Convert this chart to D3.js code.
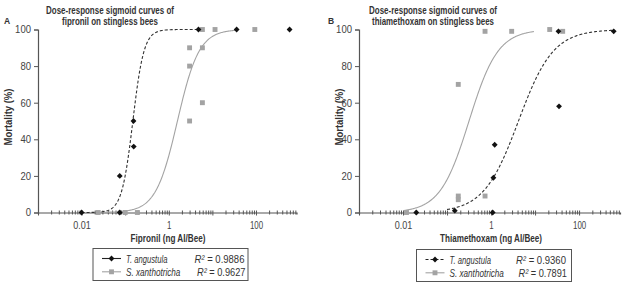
<!DOCTYPE html>
<html>
<head>
<meta charset="utf-8">
<script src="https://cdn.jsdelivr.net/npm/d3@7"></script>
<style>
	body { margin: 0; background: #fff; }
	svg { display: block; }
	text { font-family: "Liberation Sans", Arial, sans-serif; }
</style>
</head>
<body>
<div id="chart"></div>
<script>
///////////////////////////////////////////////////////////////////////////
//////////////////////////// data /////////////////////////////////////////
///////////////////////////////////////////////////////////////////////////

const doseLabels = [0.01, 1, 100];
const mortTicks = [0, 20, 40, 60, 80, 100];
const doseDomain = [0.001, 850];

// fipronil, T. angustula
const fipTaDose = [0.01, 0.075, 0.075, 0.155, 0.157, 4.8, 36, 590];
const fipTaMort = [0, 20, 0, 50, 36, 100, 100, 100];
// fipronil, S. xanthotricha
const fipSxDose = [0.024, 0.1, 0.19, 3, 3, 3, 5.9, 5.9, 5.9, 11.5, 94];
const fipSxMort = [0, 0, 0, 90, 80, 50, 100, 90, 60, 100, 100];

// thiamethoxam, T. angustula
const thiTaDose = [0.02, 0.15, 1.09, 1.13, 1.21, 34, 35, 612];
const thiTaMort = [0, 1, 0, 19, 37, 99, 58, 99];
// thiamethoxam, S. xanthotricha
const thiSxDose = [0.012, 0.18, 0.18, 0.18, 0.73, 0.73, 2.94, 21.5, 42.4];
const thiSxMort = [0, 70, 9, 7, 9, 99, 99, 100, 99];

// fitted sigmoid curves: [LD50, hill slope, dose from, dose to]
const fipTaFit = [0.15, 3.4, 0.01, 4.8];
const fipSxFit = [1.58, 1.75, 0.024, 36];
const thiTaFit = [4.2, 1.1, 0.1, 612];
const thiSxFit = [0.316, 1.32, 0.01, 9.4];

const speciesNames = ["T. angustula", "S. xanthotricha"];
const fipR2 = ["0.9886", "0.9627"];
const thiR2 = ["0.9360", "0.7891"];

///////////////////////////////////////////////////////////////////////////
//////////////////////////// set up svg ///////////////////////////////////
///////////////////////////////////////////////////////////////////////////

const width = 624;
const height = 286;

const svg = d3
	.select("#chart")
	.append("svg")
	.attr("width", width)
	.attr("height", height);

svg.append("rect").attr("width", width).attr("height", height).attr("fill", "#fff");

const colorTa = "#111";
const colorSx = "#a3a3a3";
const textColor = "#333";
const axisColor = "#555";

const zip = (xs, ys) => xs.map((x, i) => ({ dose: x, mort: ys[i] }));

const sigmoid = (fit) => {
	const [ld50, hill, from, to] = fit;
	const steps = d3.range(0, 201).map((i) => Math.log10(from) + (i / 200) * (Math.log10(to) - Math.log10(from)));
	return steps.map((l) => ({ dose: 10 ** l, mort: 100 / (1 + 10 ** (hill * (Math.log10(ld50) - l))) }));
};

// squeeze text horizontally to a width, the original uses a condensed face
// (call after .text(), moves x/y into the transform)
const squeeze = (sel, len) =>
	sel.each(function () {
		const x = +this.getAttribute("x") || 0;
		const y = +this.getAttribute("y") || 0;
		const prev = this.getAttribute("transform") || "";
		const w = this.getComputedTextLength();
		this.setAttribute("x", 0);
		this.setAttribute("y", 0);
		this.setAttribute("transform", `${prev} translate(${x},${y}) scale(${len / w},1)`);
	});

const diamond = d3.symbol(d3.symbolSquare, 17);
const square = d3.symbol(d3.symbolSquare, 24);

///////////////////////////////////////////////////////////////////////////
//////////////////////////// drawing function /////////////////////////////
///////////////////////////////////////////////////////////////////////////

const drawPanel = (p) => {
	const g = svg.append("g");

	//////////////////////////// scales ///////////////////////////////////////

	const xScale = d3.scaleLog().domain(doseDomain).range([p.left, p.right]);
	const yScale = d3.scaleLinear().domain([0, 100]).range([p.bottom, p.top]);

	//////////////////////////// axes /////////////////////////////////////////

	const isDecade = (d) => Math.abs(Math.log10(d) - Math.round(Math.log10(d))) < 1e-6;

	const xAxis = d3
		.axisBottom(xScale)
		.tickValues(xScale.ticks())
		.tickSize(2)
		.tickPadding(7)
		.tickFormat((d) => (doseLabels.some((v) => Math.abs(v - d) < v * 1e-6) ? d3.format("~g")(d) : ""));

	const xG = g.append("g").attr("transform", `translate(0,${p.bottom})`).call(xAxis);
	xG.selectAll(".tick line")
		.attr("y1", -2)
		.attr("y2", (d) => (isDecade(d) ? 3 : 2));

	const yAxis = d3.axisLeft(yScale).tickValues(mortTicks).tickSize(4).tickPadding(3);
	const yG = g.append("g").attr("transform", `translate(${p.left},0)`).call(yAxis);

	[xG, yG].forEach((a) => {
		a.select(".domain").attr("stroke", axisColor).attr("stroke-width", 1.2);
		a.selectAll(".tick line").attr("stroke", axisColor);
		a.selectAll(".tick text").attr("fill", "#444").style("font-size", "10.5px");
	});
	xG.selectAll(".tick text").each(function () {
		const t = d3.select(this);
		if (t.text()) squeeze(t, t.text().length * 4.4);
	});
	yG.selectAll(".tick text").each(function () {
		const t = d3.select(this);
		squeeze(t, t.text().length * 5.3);
	});

	//////////////////////////// curves ///////////////////////////////////////

	const line = d3
		.line()
		.x((d) => xScale(d.dose))
		.y((d) => yScale(d.mort));

	g.append("path")
		.attr("d", line(sigmoid(p.sxFit)))
		.attr("fill", "none")
		.attr("stroke", colorSx)
		.attr("stroke-width", 1.1);

	g.append("path")
		.attr("d", line(sigmoid(p.taFit)))
		.attr("fill", "none")
		.attr("stroke", "#333")
		.attr("stroke-width", 1.1)
		.attr("stroke-dasharray", "3,2");

	//////////////////////////// points ///////////////////////////////////////

	g.selectAll(".sx")
		.data(zip(p.sxDose, p.sxMort))
		.join("path")
		.attr("class", "sx")
		.attr("d", square)
		.attr("transform", (d) => `translate(${xScale(d.dose)},${yScale(d.mort)})`)
		.attr("fill", colorSx);

	g.selectAll(".ta")
		.data(zip(p.taDose, p.taMort))
		.join("path")
		.attr("class", "ta")
		.attr("d", diamond)
		.attr("transform", (d) => `translate(${xScale(d.dose)},${yScale(d.mort)}) rotate(45)`)
		.attr("fill", colorTa);

	//////////////////////////// texts ////////////////////////////////////////

	g.append("text")
		.attr("x", p.letterX)
		.attr("y", 24)
		.attr("fill", textColor)
		.style("font-size", "8.5px")
		.style("font-weight", "bold")
		.text(p.letter);

	p.title.forEach((t, i) => {
		g.append("text")
			.attr("x", p.titleX)
			.attr("y", 13.5 + i * 11.5)
			.attr("text-anchor", "middle")
			.attr("fill", textColor)
			.style("font-size", "10.5px")
			.style("font-weight", "bold")
			.text(t)
			.call(squeeze, p.titleLen[i]);
	});

	g.append("text")
		.attr("text-anchor", "middle")
		.attr("transform", `translate(${p.yTitleX},${(p.top + p.bottom) / 2 - 4}) rotate(-90)`)
		.attr("fill", textColor)
		.style("font-size", "10.5px")
		.style("font-weight", "bold")
		.text("Mortality (%)")
		.call(squeeze, 57);

	g.append("text")
		.attr("x", p.xTitleX)
		.attr("y", 241.5)
		.attr("text-anchor", "middle")
		.attr("fill", textColor)
		.style("font-size", "10.5px")
		.style("font-weight", "bold")
		.text(p.xTitle)
		.call(squeeze, p.xTitleLen);

	//////////////////////////// legend ///////////////////////////////////////

	const lg = g.append("g").attr("transform", `translate(${p.legendX},${p.legendY})`);

	lg.append("rect")
		.attr("width", 155)
		.attr("height", 32)
		.attr("fill", "#fff")
		.attr("stroke", axisColor)
		.attr("stroke-width", 1);

	speciesNames.forEach((name, i) => {
		const y = 10 + i * 13.3;
		const isTa = i === 0;
		lg.append("line")
			.attr("x1", 9)
			.attr("x2", 28)
			.attr("y1", y)
			.attr("y2", y)
			.attr("stroke", isTa ? "#222" : colorSx)
			.attr("stroke-width", 1.1)
			.attr("stroke-dasharray", isTa && p.dashedLegend ? "3,2" : null);
		lg.append("path")
			.attr("d", isTa ? diamond : square)
			.attr("transform", `translate(18.5,${y})${isTa ? " rotate(45)" : ""}`)
			.attr("fill", isTa ? colorTa : colorSx);
		lg.append("text")
			.attr("x", 33)
			.attr("y", y + 4)
			.attr("fill", textColor)
			.style("font-size", "11px")
			.style("font-style", "italic")
			.text(name)
			.call(squeeze, isTa ? 41.5 : 54.5);
		const r = lg
			.append("text")
			.attr("x", p.r2X[i])
			.attr("y", y + 4)
			.attr("fill", textColor)
			.style("font-size", "11px");
		r.append("tspan").style("font-style", "italic").text("R²");
		r.append("tspan").text(" = " + p.r2[i]);
		r.call(squeeze, 50 - i * 1.5);
	});
};

///////////////////////////////////////////////////////////////////////////
//////////////////////////// panels ///////////////////////////////////////
///////////////////////////////////////////////////////////////////////////

drawPanel({
	letter: "A",
	letterX: 4,
	title: ["Dose-response sigmoid curves of", "fipronil on stingless bees"],
	titleLen: [128, 96],
	titleX: 110,
	xTitle: "Fipronil (ng AI/Bee)",
	xTitleLen: 75,
	xTitleX: 168,
	yTitleX: 12,
	left: 38,
	right: 296.5,
	top: 29.5,
	bottom: 212.5,
	taDose: fipTaDose,
	taMort: fipTaMort,
	sxDose: fipSxDose,
	sxMort: fipSxMort,
	taFit: fipTaFit,
	sxFit: fipSxFit,
	legendX: 93,
	legendY: 248.5,
	r2: fipR2,
	r2X: [101.5, 104],
	dashedLegend: false
});

drawPanel({
	letter: "B",
	letterX: 328,
	title: ["Dose-response sigmoid curves of", "thiamethoxam on stingless bees"],
	titleLen: [128, 122],
	titleX: 433,
	xTitle: "Thiamethoxam (ng AI/Bee)",
	xTitleLen: 102,
	xTitleX: 491,
	yTitleX: 342.5,
	left: 359,
	right: 620,
	top: 29.5,
	bottom: 212.5,
	taDose: thiTaDose,
	taMort: thiTaMort,
	sxDose: thiSxDose,
	sxMort: thiSxMort,
	taFit: thiTaFit,
	sxFit: thiSxFit,
	legendX: 416.5,
	legendY: 249.5,
	r2: thiR2,
	r2X: [99.5, 102],
	dashedLegend: true
});
</script>
</body>
</html>
